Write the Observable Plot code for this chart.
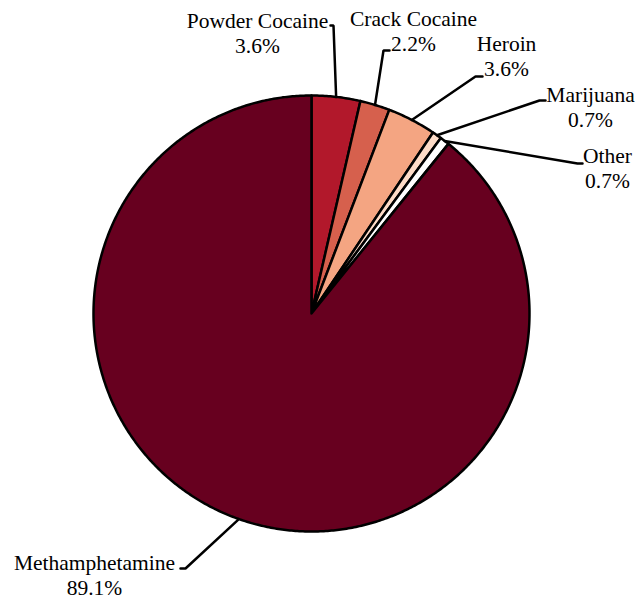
<!DOCTYPE html>
<html>
<head>
<meta charset="utf-8">
<script src="https://cdn.jsdelivr.net/npm/d3@7"></script>
<script src="https://cdn.jsdelivr.net/npm/@observablehq/plot@0.6"></script>
<style>
  html, body { margin: 0; padding: 0; background: #fff; }
  svg { display: block; }
</style>
</head>
<body>
<div id="chart"></div>
<script>
// ---- data ----
const categories = ["Powder Cocaine", "Crack Cocaine", "Heroin", "Marijuana", "Other", "Methamphetamine"];
const shares = [3.6, 2.2, 3.6, 0.7, 0.7, 89.1];
const pctLabels = ["3.6%", "2.2%", "3.6%", "0.7%", "0.7%", "89.1%"];
const colors = ["#b2182b", "#d6604d", "#f4a582", "#fddbc7", "#ffffff", "#67001f"];

// ---- layout (pixels) ----
const W = 638, H = 598;
const cx = 311, cy = 313, R = 218;
const FS = 21.5;
// label text anchor (center x, baseline of last line), leader elbow, tick end
const labelLayout = [
  {tx: 257, ty: 52,  ex: 333, ey: 25,  kx: 330},
  {tx: 413, ty: 50,  ex: 383, ey: 50,  kx: 389},
  {tx: 506, ty: 75,  ex: 475, ey: 76,  kx: 482},
  {tx: 590, ty: 126, ex: 539, ey: 100, kx: 545},
  {tx: 607, ty: 187, ex: 577, ey: 163, kx: 582},
  {tx: 94,  ty: 594, ex: 185, ey: 568, kx: 180}
];

const arcs = d3.pie().sort(null).value(d => d)(shares);
const pt = (a, r) => [cx + r * Math.sin(a), cy - r * Math.cos(a)];

const features = arcs.map((a, i) => {
  const ring = [[cx, cy]];
  const n = Math.max(4, Math.ceil((a.endAngle - a.startAngle) / (Math.PI / 360)));
  for (let k = 0; k <= n; k++) {
    ring.push(pt(a.startAngle + (a.endAngle - a.startAngle) * k / n, R));
  }
  ring.push([cx, cy]);
  return {type: "Feature", properties: {name: categories[i]}, geometry: {type: "Polygon", coordinates: [ring]}};
});

const leaders = [];
arcs.forEach((a, i) => {
  const m = (a.startAngle + a.endAngle) / 2;
  const L = labelLayout[i];
  const p0 = pt(m, R);
  leaders.push({name: categories[i], x: p0[0], y: p0[1]});
  leaders.push({name: categories[i], x: L.ex, y: L.ey});
  leaders.push({name: categories[i], x: L.kx, y: L.ey});
});

const labels = categories.map((c, i) => ({
  text: c + "\n" + pctLabels[i],
  x: labelLayout[i].tx,
  y: labelLayout[i].ty
}));

const chart = Plot.plot({
  width: W,
  height: H,
  margin: 0,
  style: {fontFamily: "'Liberation Serif', 'Times New Roman', serif", fontSize: FS + "px", background: "#fff"},
  projection: () => d3.geoIdentity(),
  color: {domain: categories, range: colors},
  marks: [
    Plot.geo(features, {fill: d => d.properties.name, stroke: "#000", strokeWidth: 2.5, strokeLinejoin: "round"}),
    Plot.line(leaders, {x: "x", y: "y", z: "name", stroke: "#000", strokeWidth: 2.5, strokeLinejoin: "miter"}),
    Plot.text(labels, {x: "x", y: "y", text: "text", textAnchor: "middle", lineAnchor: "bottom",
      lineHeight: 25 / FS, fontSize: FS, fontFamily: "Liberation Serif", fill: "#000"})
  ]
});
document.getElementById("chart").appendChild(chart);
</script>
</body>
</html>
